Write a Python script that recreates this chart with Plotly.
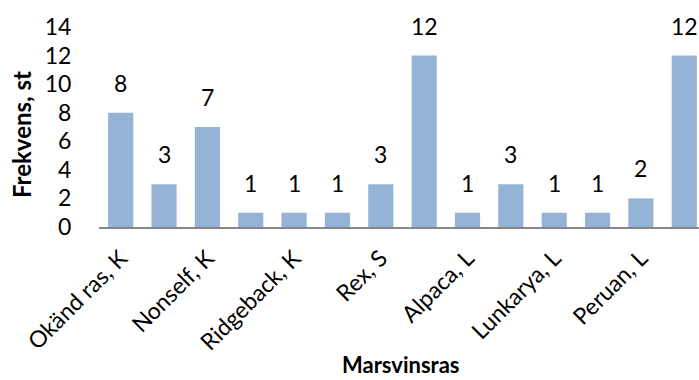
import plotly.graph_objects as go

# Frequency of guinea-pig breeds (K = korthår, S = strävhår, L = långhår)
counts = [8, 3, 7, 1, 1, 1, 3, 12, 1, 3, 1, 1, 2, 12]
tick_labels = ["Okänd ras, K", "Nonself, K", "Ridgeback, K", "Rex, S",
               "Alpaca, L", "Lunkarya, L", "Peruan, L"]
y_ticks = [0, 2, 4, 6, 8, 10, 12, 14]

positions = list(range(len(counts)))
label_positions = positions[::2]

FONT = "Lato, Carlito, Calibri, sans-serif"
BAR = "#95B3D7"

fig = go.Figure(
    go.Bar(
        x=positions,
        y=counts,
        width=0.58,
        marker=dict(color=BAR, line=dict(width=0)),
    )
)

# value labels above each bar
for xi, v in zip(positions, counts):
    fig.add_annotation(
        x=xi, y=v, text=str(v),
        xref="x", yref="y",
        xanchor="center", yanchor="bottom",
        yshift=14, showarrow=False,
        font=dict(family=FONT, size=23, color="#000000"),
    )

fig.update_layout(
    width=699,
    height=380,
    margin=dict(l=99, r=0, t=27, b=153),
    plot_bgcolor="white",
    paper_bgcolor="white",
    showlegend=False,
    font=dict(family=FONT, size=23, color="#000000"),
)

fig.update_xaxes(
    range=[-0.5, 13.34],
    tickmode="array",
    tickvals=label_positions,
    ticktext=tick_labels,
    tickangle=-45,
    ticks="outside",
    ticklen=7,
    tickcolor="rgba(0,0,0,0)",
    showline=True,
    linecolor="#868686",
    linewidth=1.5,
    showgrid=False,
    zeroline=False,
    tickfont=dict(family=FONT, size=23),
)

fig.update_yaxes(
    range=[0, 14],
    tickmode="array",
    tickvals=y_ticks,
    ticks="outside",
    ticklen=22,
    tickcolor="rgba(0,0,0,0)",
    showline=False,
    showgrid=False,
    zeroline=False,
    tickfont=dict(family=FONT, size=23),
)

fig.add_annotation(
    text="<b>Frekvens, st</b>",
    xref="paper", yref="paper",
    x=-0.13, y=0.46,
    xanchor="center", yanchor="middle",
    textangle=-90,
    showarrow=False,
    font=dict(family=FONT, size=24),
)

# x-axis title, placed in pixels below the plot area
fig.add_annotation(
    text="<b>Marsvinsras</b>",
    xref="paper", yref="paper",
    x=0.503, y=0,
    xanchor="center", yanchor="middle",
    yshift=-(364 - 227),
    showarrow=False,
    font=dict(family=FONT, size=22),
)

fig.write_html("out.html")
